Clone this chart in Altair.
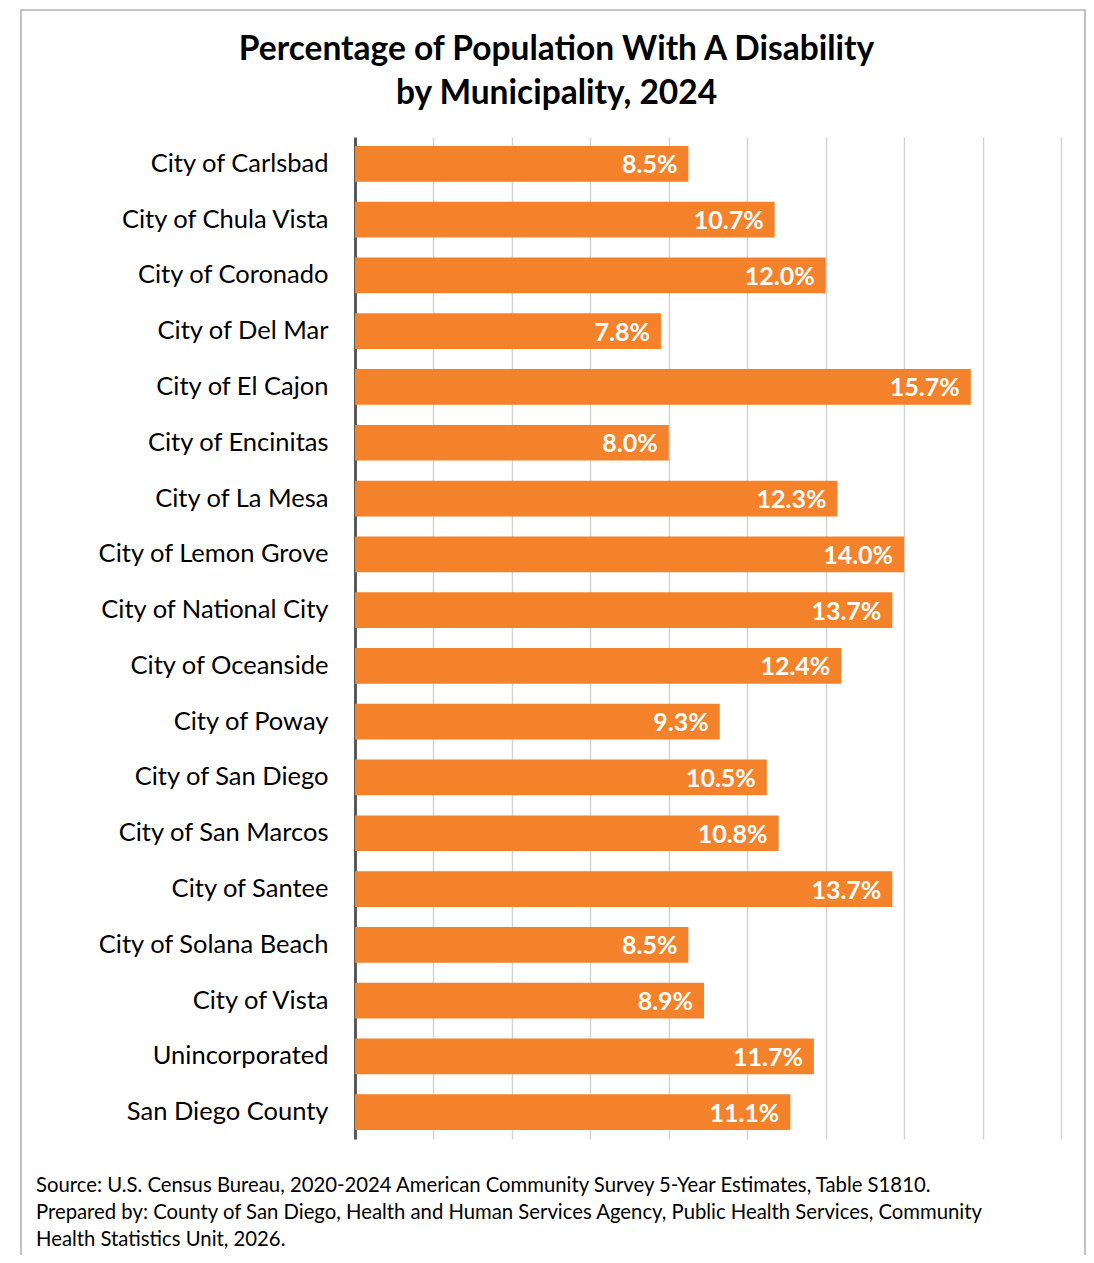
import altair as alt
import pandas as pd

municipalities = [
    "City of Carlsbad", "City of Chula Vista", "City of Coronado", "City of Del Mar",
    "City of El Cajon", "City of Encinitas", "City of La Mesa", "City of Lemon Grove",
    "City of National City", "City of Oceanside", "City of Poway", "City of San Diego",
    "City of San Marcos", "City of Santee", "City of Solana Beach", "City of Vista",
    "Unincorporated", "San Diego County",
]
percent = [8.5, 10.7, 12.0, 7.8, 15.7, 8.0, 12.3, 14.0, 13.7, 12.4, 9.3, 10.5,
           10.8, 13.7, 8.5, 8.9, 11.7, 11.1]
title_lines = ["Percentage of Population With A Disability", "by Municipality, 2024"]
footer_lines = [
    "Source: U.S. Census Bureau, 2020-2024 American Community Survey 5-Year Estimates, Table S1810.",
    "Prepared by: County of San Diego, Health and Human Services Agency, Public Health Services, Community",
    "Health Statistics Unit, 2026.",
]
grid_values = list(range(0, 20, 2))

FONT = "Lato"
ORANGE = "#F4822B"

df = pd.DataFrame({"name": municipalities, "value": percent})

y_enc = alt.Y("name:N", sort=municipalities,
              scale=alt.Scale(paddingInner=0.36, paddingOuter=0.16),
              axis=alt.Axis(title=None, labelFont=FONT, labelFontSize=25.5, labelColor="#000000",
                            labelPadding=27, ticks=False, domainColor="#595959",
                            domainWidth=3, labelLimit=400))
x_enc = alt.X("value:Q", scale=alt.Scale(domain=[0, 18], nice=False, zero=True),
              axis=alt.Axis(title=None, labels=False, ticks=False, domain=False,
                            grid=True, values=grid_values, gridColor="#d4d4d4",
                            gridWidth=1.5))

bars = alt.Chart(df).mark_bar(color=ORANGE).encode(x=x_enc, y=y_enc)

labels = alt.Chart(df).transform_calculate(
    label="format(datum.value, '.1f') + '%'"
).mark_text(align="right", baseline="middle", dx=-11, dy=1.5, color="white",
            font=FONT, fontWeight="bold", fontSize=25).encode(
    x="value:Q", y=alt.Y("name:N", sort=municipalities), text="label:N")

frame = alt.Chart(pd.DataFrame({"k": [0]})).mark_rect(
    fill=None, stroke="#b0b0b0", strokeWidth=1.5
).encode(x=alt.value(-334), x2=alt.value(730), y=alt.value(-127), y2=alt.value(1200))

title = alt.Chart(pd.DataFrame({"t": ["\n".join(title_lines)]})).mark_text(
    align="center", baseline="alphabetic", lineBreak="\n", lineHeight=44, font=FONT,
    fontSize=33.5, fontWeight="bold", color="#000000"
).encode(x=alt.value(201.5), y=alt.value(-77), text="t:N")

footer = alt.Chart(pd.DataFrame({"t": ["\n".join(footer_lines)]})).mark_text(
    align="left", baseline="middle", lineBreak="\n", lineHeight=27, font=FONT,
    fontSize=20.3, color="#000000"
).encode(x=alt.value(-319), y=alt.value(1049), text="t:N")

chart = alt.layer(frame, title, bars, labels, footer).properties(
    width=706, height=1002,
    autosize=alt.AutoSizeParams(type="none"),
    padding={"left": 347, "top": 129, "right": 25, "bottom": 116},
).configure_view(stroke=None)

chart.save("out.html", embed_options={"renderer": "svg", "actions": False})
